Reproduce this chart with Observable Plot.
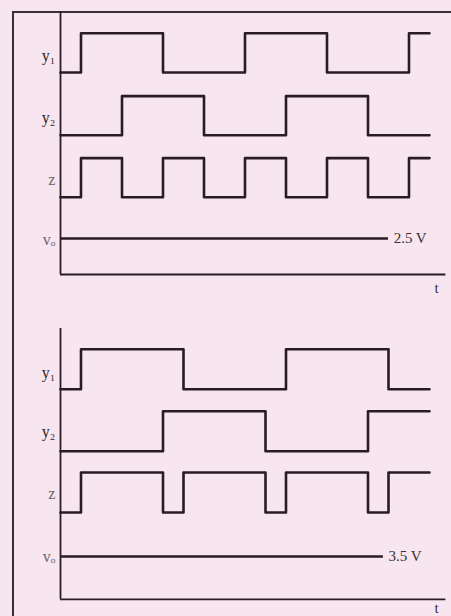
<!DOCTYPE html>
<html>
<head>
<meta charset="utf-8">
<script src="https://cdn.jsdelivr.net/npm/d3@7"></script>
<script src="https://cdn.jsdelivr.net/npm/@observablehq/plot@0.6"></script>
<style>
  html, body { margin: 0; padding: 0; background: #f7e6f0; }
  #wrap { position: relative; width: 451px; height: 616px; overflow: hidden; background: #f7e6f0; }
  #frame { position: absolute; left: 12px; top: 11px; width: 450px; height: 620px;
           border-left: 2px solid #3a3035; border-top: 2px solid #3a3035; }
  #top { position: absolute; left: 0; top: 0; }
  #bot { position: absolute; left: 0; top: 300px; }
</style>
</head>
<body>
<div id="wrap"><div id="frame"></div><div id="top"></div><div id="bot"></div></div>
<script>
// ---- data: transition times and logic levels (step-after) ----
const tTop  = [0, 1, 3, 5, 7, 9, 11, 13, 15, 17, 18];
const y1Top = [0, 1, 1, 0, 0, 1, 1, 0, 0, 1, 1];
const y2Top = [0, 0, 1, 1, 0, 0, 1, 1, 0, 0, 0];
const zTop  = [0, 1, 0, 1, 0, 1, 0, 1, 0, 1, 1];

const tBot  = [0, 1, 5, 6, 10, 11, 15, 16, 18];
const y1Bot = [0, 1, 1, 0, 0, 1, 1, 0, 0];
const y2Bot = [0, 0, 1, 1, 0, 0, 1, 1, 1];
const zBot  = [0, 1, 0, 1, 0, 1, 0, 1, 1];

const signalNames = ["y₁", "y₂", "z", "vₒ"];
const voLabels = ["2.5 V", "3.5 V"];
const voEnd = [16, 15.75];

const ink = "#2a1c22";
const font = "'Liberation Serif', 'DejaVu Serif', serif";

function panel(times, sigs, bases, cfg) {
  const marks = [];
  sigs.forEach((vals, i) => {
    const pts = times.map((t, k) => ({t, v: bases[i] + vals[k] * cfg.amp}));
    marks.push(Plot.line(pts, {x: "t", y: "v", curve: "step-after", stroke: ink, strokeWidth: 2.6}));
  });
  marks.push(Plot.ruleX([0], {y1: cfg.axisV, y2: cfg.axisTop, stroke: ink, strokeWidth: 1.8}));
  marks.push(Plot.ruleY([cfg.axisV], {x1: 0, x2: 18.8, stroke: ink, strokeWidth: 1.8}));
  marks.push(Plot.ruleY([cfg.voV], {x1: 0, x2: cfg.voEnd, stroke: ink, strokeWidth: 2.6}));
  const labs = signalNames.map((n, i) => ({n, v: cfg.labelV[i], c: i < 2 ? "#2e2428" : "#6e6468", w: i < 2 ? "bold" : "normal"}));
  marks.push(Plot.text(labs, {x: -0.25, y: "v", text: "n", textAnchor: "end", fontSize: 16, fontFamily: font,
    fill: "c", fontWeight: "w", fontStyle: (d) => d.n === "vₒ" ? "italic" : "normal"}));
  marks.push(Plot.text([cfg.voLabel], {x: cfg.voEnd + 0.25, y: cfg.voV, text: (d) => d, textAnchor: "start",
    fontSize: 15, fontFamily: font, fill: "#3a3035"}));
  marks.push(Plot.text(["t"], {x: 18.35, y: cfg.tV, text: (d) => d, fontSize: 15, fontFamily: font, fill: "#3a3035"}));
  return Plot.plot({
    width: 451, height: cfg.height,
    marginLeft: 60, marginRight: 1.5, marginTop: 0, marginBottom: 0,
    x: {domain: [0, 19], axis: null},
    y: {domain: [0, cfg.yMax], axis: null},
    style: {background: "transparent", overflow: "visible"},
    marks
  });
}

document.getElementById("top").appendChild(panel(tTop, [y1Top, y2Top, zTop], [5.7, 4.13, 2.58], {
  amp: 0.98, height: 300, yMax: 7.5, axisV: 0.65, axisTop: 7.22, voV: 1.55, voEnd: voEnd[0],
  voLabel: voLabels[0], labelV: [6.12, 4.57, 3.02, 1.52], tV: 0.32
}));
document.getElementById("bot").appendChild(panel(tBot, [y1Bot, y2Bot, zBot], [5.68, 4.13, 2.6], {
  amp: 1.0, height: 316, yMax: 7.9, axisV: 0.43, axisTop: 7.2, voV: 1.5, voEnd: voEnd[1],
  voLabel: voLabels[1], labelV: [6.1, 4.62, 3.07, 1.5], tV: 0.22
}));
</script>
</body>
</html>
